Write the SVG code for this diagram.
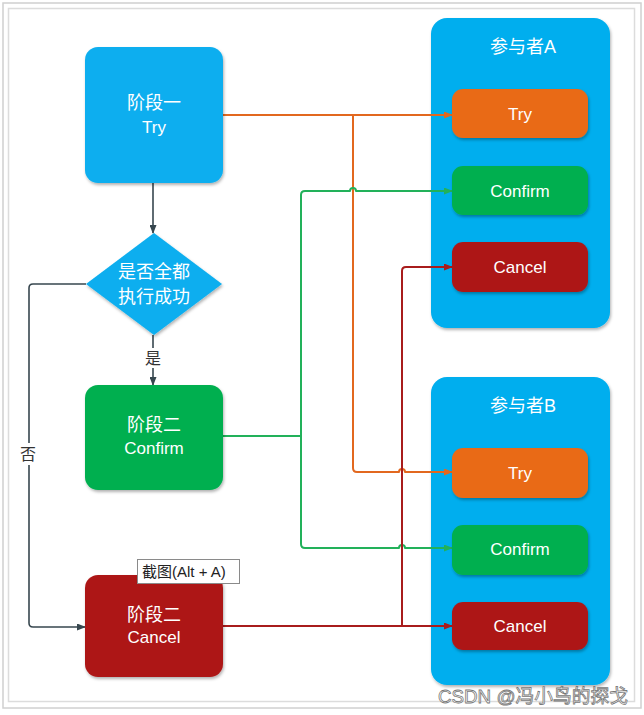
<svg xmlns="http://www.w3.org/2000/svg" width="644" height="715" viewBox="0 0 644 715">
<defs>
<style>
.box{filter:url(#sh);}
.t{font-family:"Liberation Sans","Noto Sans CJK SC",sans-serif;fill:#fff;text-anchor:middle;dominant-baseline:central;}
.cj{font-size:18px;}
.lt{font-size:17px;}
.lbl{font-family:"Liberation Sans","Noto Sans CJK SC",sans-serif;fill:#333;font-size:16px;text-anchor:middle;dominant-baseline:central;}
.ln{fill:none;stroke-width:2;stroke-linejoin:round;}
.or{stroke:#E2681F;}
.gr{stroke:#22B15A;}
.rd{stroke:#A81C1C;}
.dk{stroke:#37474F;stroke-width:1.6;}
</style>
<filter id="sh" x="-10%" y="-10%" width="125%" height="130%">
<feDropShadow dx="1" dy="2" stdDeviation="1.6" flood-color="#000" flood-opacity="0.3"/>
</filter>
<marker id="aor" markerWidth="9" markerHeight="7" refX="8" refY="3.5" orient="auto" markerUnits="userSpaceOnUse"><path d="M0,0 L9,3.5 L0,7 z" fill="#E2681F"/></marker>
<marker id="agr" markerWidth="9" markerHeight="7" refX="8" refY="3.5" orient="auto" markerUnits="userSpaceOnUse"><path d="M0,0 L9,3.5 L0,7 z" fill="#22B15A"/></marker>
<marker id="ard" markerWidth="9" markerHeight="7" refX="8" refY="3.5" orient="auto" markerUnits="userSpaceOnUse"><path d="M0,0 L9,3.5 L0,7 z" fill="#A81C1C"/></marker>
<marker id="adk" markerWidth="9" markerHeight="7" refX="8" refY="3.5" orient="auto" markerUnits="userSpaceOnUse"><path d="M0,0 L9,3.5 L0,7 z" fill="#37474F"/></marker>
</defs>
<rect x="0" y="0" width="644" height="715" fill="#fff"/>
<rect x="3" y="3" width="638" height="705" fill="none" stroke="#d0d0d0" stroke-width="1.5"/>
<rect x="8.5" y="8.5" width="626" height="693" fill="none" stroke="#dcdcdc" stroke-width="1.5"/>

<g id="participantA">
<rect class="box" x="431" y="18" width="179" height="310" rx="16" fill="#03AEEE"/>
<text class="t cj" x="523" y="47">参与者A</text>
</g>
<g id="participantB">
<rect class="box" x="431" y="377" width="179" height="308" rx="16" fill="#03AEEE"/>
<text class="t cj" x="523" y="406">参与者B</text>
</g>

<g id="connectors">
<path class="ln or" d="M223,115 H452" marker-end="url(#aor)"/>
<path class="ln or" d="M353,115 V468 Q353,472 357,472 H399 A3,3 0 0 1 405,472 H452" marker-end="url(#aor)"/>
<path class="ln gr" d="M223,436 H301"/>
<path class="ln gr" d="M301,436 V195 Q301,191 305,191 H350 A3,3 0 0 1 356,191 H452" marker-end="url(#agr)"/>
<path class="ln gr" d="M301,436 V544 Q301,548 305,548 H399 A3,3 0 0 1 405,548 H452" marker-end="url(#agr)"/>
<path class="ln rd" d="M223,626 H452" marker-end="url(#ard)"/>
<path class="ln rd" d="M402,626 V271 Q402,267 406,267 H452" marker-end="url(#ard)"/>
<path class="ln dk" d="M153,183 V233" marker-end="url(#adk)"/>
<path class="ln dk" d="M153,335 V385" marker-end="url(#adk)"/>
<path class="ln dk" d="M86,284 H33 Q29,284 29,288 V623 Q29,627 33,627 H85" marker-end="url(#adk)"/>
<rect x="143" y="348" width="20" height="20" fill="#fff"/>
<text class="lbl" x="153" y="358">是</text>
<rect x="19" y="443" width="20" height="22" fill="#fff"/>
<text class="lbl" x="28" y="454">否</text>
</g>

<g id="phase1">
<rect class="box" x="85" y="47" width="138" height="136" rx="13" fill="#0AAEEF"/>
<text class="t cj" x="154" y="103">阶段一</text>
<text class="t lt" x="154" y="127">Try</text>
</g>
<g id="decision">
<path class="box" d="M154,233 L222,284 L154,335 L86,284 Z" fill="#0AAEEF"/>
<text class="t cj" x="154" y="272">是否全都</text>
<text class="t cj" x="154" y="297">执行成功</text>
</g>
<g id="phase2confirm">
<rect class="box" x="85" y="385" width="138" height="105" rx="13" fill="#04AF4F"/>
<text class="t cj" x="154" y="425">阶段二</text>
<text class="t lt" x="154" y="448">Confirm</text>
</g>
<g id="phase2cancel">
<rect class="box" x="85" y="575" width="138" height="102" rx="13" fill="#AD1818"/>
<text class="t cj" x="154" y="615">阶段二</text>
<text class="t lt" x="154" y="637">Cancel</text>
</g>

<g id="tryA">
<rect class="box" x="452" y="89" width="136" height="49" rx="11" fill="#E96A18"/>
<text class="t lt" x="520" y="114">Try</text>
</g>
<g id="confirmA">
<rect class="box" x="452" y="166" width="136" height="49" rx="11" fill="#04AF4F"/>
<text class="t lt" x="520" y="191">Confirm</text>
</g>
<g id="cancelA">
<rect class="box" x="452" y="242" width="136" height="50" rx="11" fill="#AD1818"/>
<text class="t lt" x="520" y="267">Cancel</text>
</g>
<g id="tryB">
<rect class="box" x="452" y="448" width="136" height="50" rx="11" fill="#E96A18"/>
<text class="t lt" x="520" y="473">Try</text>
</g>
<g id="confirmB">
<rect class="box" x="452" y="525" width="136" height="50" rx="11" fill="#04AF4F"/>
<text class="t lt" x="520" y="549">Confirm</text>
</g>
<g id="cancelB">
<rect class="box" x="452" y="602" width="136" height="48" rx="11" fill="#AD1818"/>
<text class="t lt" x="520" y="626">Cancel</text>
</g>

<g id="tooltip">
<rect x="137.5" y="559.5" width="102" height="24" fill="#fff" stroke="#8a8a8a" stroke-width="1"/>
<text x="142" y="577" font-family="'Liberation Sans','Noto Sans CJK SC',sans-serif" font-size="15" fill="#222">截图(Alt + A)</text>
</g>
<text x="438" y="703" font-family="'Liberation Sans','Noto Sans CJK SC',sans-serif" font-size="19" fill="#fff" stroke="#777" stroke-width="0.8" textLength="190" lengthAdjust="spacingAndGlyphs">CSDN @冯小鸟的探戈</text>
</svg>
